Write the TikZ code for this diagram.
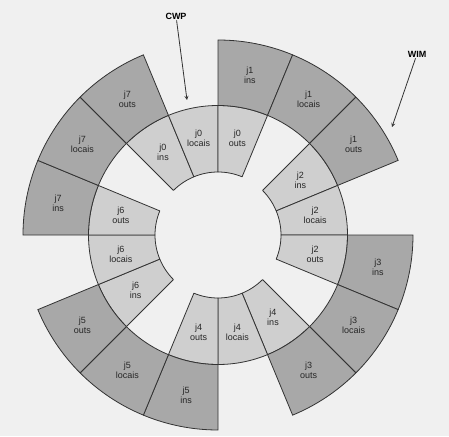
\documentclass[tikz,border=0pt]{standalone}
\usepackage{fontspec}
\setmainfont{Liberation Sans}
\usepackage{tikz}

\definecolor{fundo}{gray}{0.94}
\definecolor{anelint}{gray}{0.81}
\definecolor{anelext}{gray}{0.66}
\definecolor{linha}{gray}{0.2}

\begin{document}
\begin{tikzpicture}[
  setor/.style={draw=linha,line width=0.8pt,line join=round},
  rotulo/.style={align=center,inner sep=0pt,text=black!85,font=\fontsize{9}{10}\selectfont},
  ponteiro/.style={inner sep=1pt,font=\fontsize{9}{10}\selectfont\bfseries},
  seta/.style={draw=linha,line width=0.8pt,->,>=stealth}]
%Фон и границы рисунка
\fill[fundo] (-218pt,-201pt) rectangle (231pt,235pt);
\useasboundingbox (-218pt,-201pt) rectangle (231pt,235pt);

%Построение внутреннего кольца (чётные окна)
\foreach \jan/\a in {j0/135,j2/45,j4/-45,j6/-135}
  \foreach \parte/\d in {ins/0,locais/22.5,outs/45}{
    \pgfmathsetmacro\ai{\a-\d}
    \pgfmathsetmacro\af{\a-\d-22.5}
    \pgfmathsetmacro\am{\a-\d-11.25}
    \filldraw[setor,fill=anelint] (\ai:63pt) arc[start angle=\ai,end angle=\af,radius=63pt]
      -- (\af:129.5pt) arc[start angle=\af,end angle=\ai,radius=129.5pt] -- cycle;
    \node[rotulo] (\jan-\parte) at (\am:99pt) {\jan\\\parte};
  }

%Построение внешнего кольца (нечётные окна)
\foreach \jan/\a in {j1/90,j3/0,j5/-90,j7/180}
  \foreach \parte/\d in {ins/0,locais/22.5,outs/45}{
    \pgfmathsetmacro\ai{\a-\d}
    \pgfmathsetmacro\af{\a-\d-22.5}
    \pgfmathsetmacro\am{\a-\d-11.25}
    \filldraw[setor,fill=anelext] (\ai:129.5pt) arc[start angle=\ai,end angle=\af,radius=129.5pt]
      -- (\af:195pt) arc[start angle=\af,end angle=\ai,radius=195pt] -- cycle;
    \node[rotulo] (\jan-\parte) at (\am:163pt) {\jan\\\parte};
  }

%Указатели
\node[ponteiro] (cwp) at (-42pt,219pt) {CWP};
\coordinate (cwpfim) at (-31pt,135pt);
\draw[seta] (cwp) -- (cwpfim);%CWP
\node[ponteiro] (wim) at (199pt,181pt) {WIM};
\coordinate (wimfim) at (174pt,108pt);
\draw[seta] (wim) -- (wimfim);%WIM

\end{tikzpicture}
\end{document}
